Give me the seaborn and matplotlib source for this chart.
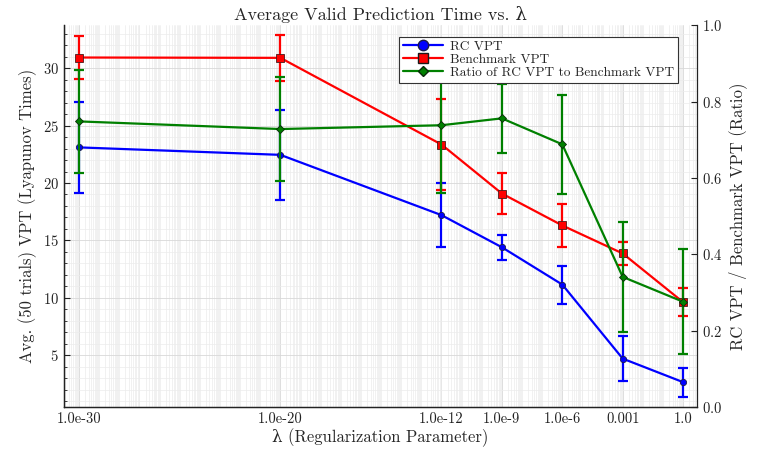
import matplotlib
matplotlib.use("Agg")
import numpy as np
import pandas as pd
import seaborn as sns
import matplotlib.pyplot as plt
from matplotlib.ticker import LogLocator, FixedLocator, FixedFormatter, NullFormatter, MultipleLocator
from matplotlib.lines import Line2D

# ---- data ----
lambdas = [1e-30, 1e-20, 1e-12, 1e-9, 1e-6, 1e-3, 1.0]
tick_labels = ["1.0e-30", "1.0e-20", "1.0e-12", "1.0e-9", "1.0e-6", "0.001", "1.0"]
rc_vpt = [23.1, 22.45, 17.2, 14.4, 11.15, 4.7, 2.65]
rc_err = [3.95, 3.9, 2.8, 1.1, 1.65, 1.95, 1.25]
bench_vpt = [30.93, 30.9, 23.35, 19.08, 16.3, 13.86, 9.62]
bench_err = [1.9, 2.0, 4.0, 1.8, 1.9, 1.0, 1.2]
ratio = [0.748, 0.728, 0.738, 0.756, 0.688, 0.341, 0.276]
ratio_err = [0.135, 0.135, 0.177, 0.09, 0.13, 0.143, 0.137]

sns.set_theme(style="white")
plt.rcParams["font.family"] = ["cmr10", "DejaVu Serif"]
plt.rcParams["mathtext.fontset"] = "cm"
plt.rcParams["axes.formatter.use_mathtext"] = True
plt.rcParams["axes.unicode_minus"] = False

fig = plt.figure(figsize=(7.57, 4.57), dpi=100)
ax = fig.add_axes([0.0845, 0.109, 0.8365, 0.836])
ax2 = ax.twinx()

df = pd.DataFrame({"lam": lambdas, "rc": rc_vpt, "bench": bench_vpt, "ratio": ratio})

blue, red, green = "#0000ff", "#ff0000", "#008000"

# blue series
ax.errorbar(lambdas, rc_vpt, yerr=rc_err, fmt="none", ecolor=blue, elinewidth=1.6,
            capsize=3.5, capthick=1.6, zorder=3)
sns.lineplot(data=df, x="lam", y="rc", ax=ax, color=blue, lw=1.6, marker="o",
             markersize=4.5, markeredgecolor="#1a1a4a", markeredgewidth=0.6, zorder=4)
# red series
ax.errorbar(lambdas, bench_vpt, yerr=bench_err, fmt="none", ecolor=red, elinewidth=1.6,
            capsize=3.5, capthick=1.6, zorder=3)
sns.lineplot(data=df, x="lam", y="bench", ax=ax, color=red, lw=1.6, marker="s",
             markersize=5.2, markeredgecolor="#4a1a1a", markeredgewidth=0.6, zorder=4)
# green series (right axis)
ax2.errorbar(lambdas, ratio, yerr=ratio_err, fmt="none", ecolor=green, elinewidth=1.6,
             capsize=3.5, capthick=1.6, zorder=3)
sns.lineplot(data=df, x="lam", y="ratio", ax=ax2, color=green, lw=1.6, marker="D",
             markersize=3.8, markeredgecolor="#0a2a0a", markeredgewidth=0.6, zorder=4)

ax.set_xscale("log")
ax.set_xlim(10 ** -30.75, 10 ** 0.7)
ax.set_ylim(0.47, 33.75)
ax2.set_ylim(0, 1.0)

ax.xaxis.set_major_locator(FixedLocator(lambdas))
ax.xaxis.set_major_formatter(FixedFormatter(tick_labels))
ax.xaxis.set_minor_locator(LogLocator(base=10, subs=np.arange(1, 10), numticks=400))
ax.xaxis.set_minor_formatter(NullFormatter())
ax.yaxis.set_major_locator(MultipleLocator(5))
ax.yaxis.set_minor_locator(MultipleLocator(1))
ax2.yaxis.set_major_locator(MultipleLocator(0.2))

ax.grid(True, which="major", color="#d8d8d8", lw=0.6)
ax.grid(True, which="minor", color="#ececec", lw=0.5)
ax2.grid(False)

for a in (ax, ax2):
    a.tick_params(which="both", direction="in", colors="#222222", labelsize=10.5)
    a.tick_params(which="major", length=4, width=0.8)
    a.tick_params(which="minor", length=2, width=0.6)
    for s in a.spines.values():
        s.set_color("#222222")
        s.set_linewidth(0.9)
    a.spines["top"].set_visible(False)
ax.spines["right"].set_visible(False)
ax.tick_params(axis="x", which="both", top=False)
ax2.tick_params(axis="y", labelcolor="#222222")

ax.set_xlabel("λ (Regularization Parameter)", fontsize=12)
ax.set_ylabel("Avg. (50 trials) VPT (Lyapunov Times)", fontsize=12)
ax2.set_ylabel("RC VPT / Benchmark VPT (Ratio)", fontsize=12)
ax.set_title("Average Valid Prediction Time vs. λ", fontsize=13, pad=4)
ax.xaxis.labelpad = 2

handles = [
    Line2D([], [], color=blue, lw=1.6, marker="o", markersize=7.5, markeredgecolor="#1a1a4a"),
    Line2D([], [], color=red, lw=1.6, marker="s", markersize=7.5, markeredgecolor="#1a1a1a"),
    Line2D([], [], color=green, lw=1.6, marker="D", markersize=5.5, markeredgecolor="#0a2a0a"),
]
labels = ["RC VPT", "Benchmark VPT", "Ratio of RC VPT to Benchmark VPT"]
leg = ax2.legend(handles, labels, loc="upper right", bbox_to_anchor=(0.97, 0.97),
                 fontsize=9.6, frameon=True, fancybox=False, framealpha=1,
                 edgecolor="#333333", borderpad=0.3, labelspacing=0.05,
                 handlelength=3.0, handletextpad=0.5, borderaxespad=0)
leg.get_frame().set_linewidth(0.8)
leg.set_zorder(10)

fig.savefig("out.png", dpi=100)
